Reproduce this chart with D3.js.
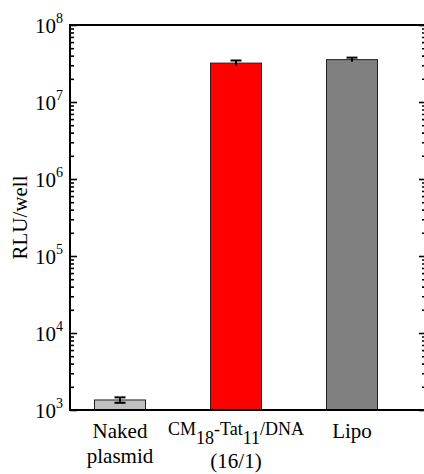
<!DOCTYPE html>
<html>
<head>
<meta charset="utf-8">
<script src="https://cdn.jsdelivr.net/npm/d3@7"></script>
<style>
  body { margin: 0; background: #fff; }
</style>
</head>
<body>
<svg id="chart" width="424" height="474"></svg>
<script>
/* data */
var categories = ["Naked plasmid", "CM18-Tat11/DNA (16/1)", "Lipo"];
var values = [1350, 3.2e7, 3.55e7];
var errors = [110, 2.6e6, 2.2e6];
var barColors = ["#c0c0c0", "#ff0000", "#808080"];
var decades = [3, 4, 5, 6, 7, 8];

var FONT = "Liberation Serif";
var width = 424, height = 474;
var margin = { top: 25, bottom: 64, left: 70, right: -1 };
var innerW = width - margin.left - margin.right,
    innerH = height - margin.top - margin.bottom;

var svg = d3.select("#chart");
var g = svg.append("g")
    .attr("transform", "translate(" + margin.left + "," + margin.top + ")");

var yScale = d3.scaleLog().domain([1e3, 1e8]).range([innerH, 0]);
var xScale = d3.scalePoint().domain(categories).range([50, 282]);
var barW = 51;

// minor ticks 2..9 in each decade
var minor = [];
decades.slice(0, -1).forEach(function(e) {
  for (var k = 2; k <= 9; k++) minor.push(k * Math.pow(10, e));
});

/* bars */
g.selectAll(".bar")
  .data(values)
  .enter().append("rect")
    .attr("class", "bar")
    .attr("x", function(d, i) { return xScale(categories[i]) - barW / 2; })
    .attr("y", function(d) { return yScale(d); })
    .attr("width", barW)
    .attr("height", function(d) { return innerH - yScale(d); })
    .attr("fill", function(d, i) { return barColors[i]; })
    .attr("stroke", "#222")
    .attr("stroke-width", 1);

/* error bars */
var eb = g.selectAll(".err")
  .data(values)
  .enter().append("g").attr("class", "err")
    .attr("stroke", "#000").attr("stroke-width", 2);
eb.append("line")
    .attr("x1", function(d, i) { return xScale(categories[i]); })
    .attr("x2", function(d, i) { return xScale(categories[i]); })
    .attr("y1", function(d, i) { return yScale(d + errors[i]); })
    .attr("y2", function(d, i) { return yScale(d - errors[i]); });
eb.append("line")
    .attr("x1", function(d, i) { return xScale(categories[i]) - 5.5; })
    .attr("x2", function(d, i) { return xScale(categories[i]) + 5.5; })
    .attr("y1", function(d, i) { return yScale(d + errors[i]); })
    .attr("y2", function(d, i) { return yScale(d + errors[i]); });
eb.append("line")
    .attr("x1", function(d, i) { return xScale(categories[i]) - 5.5; })
    .attr("x2", function(d, i) { return xScale(categories[i]) + 5.5; })
    .attr("y1", function(d, i) { return yScale(d - errors[i]); })
    .attr("y2", function(d, i) { return yScale(d - errors[i]); })
    .attr("visibility", function(d, i) { return i === 0 ? "visible" : "hidden"; });

/* axes: ticks point inward on both sides */
var majorVals = decades.map(function(e) { return Math.pow(10, e); });

function styleAxis(sel) {
  sel.select(".domain").remove();
  sel.selectAll("text").remove();
  sel.selectAll("line").attr("stroke", "#000").attr("stroke-width", 1.6);
}

g.append("g")
  .call(d3.axisLeft(yScale).tickValues(majorVals).tickSize(-7))
  .call(styleAxis);
g.append("g")
  .call(d3.axisLeft(yScale).tickValues(minor).tickSize(-4))
  .call(styleAxis);
g.append("g").attr("transform", "translate(" + innerW + ",0)")
  .call(d3.axisRight(yScale).tickValues(majorVals).tickSize(-6))
  .call(styleAxis);
g.append("g").attr("transform", "translate(" + innerW + ",0)")
  .call(d3.axisRight(yScale).tickValues(minor).tickSize(-3))
  .call(styleAxis);

/* frame */
g.append("rect")
  .attr("x", 0).attr("y", 0)
  .attr("width", innerW).attr("height", innerH)
  .attr("fill", "none").attr("stroke", "#000").attr("stroke-width", 2);

/* y tick labels 10^n */
var yl = g.selectAll(".ylab")
  .data(decades)
  .enter().append("text")
    .attr("class", "ylab")
    .attr("font-family", FONT)
    .attr("x", -35)
    .attr("y", function(e) { return yScale(Math.pow(10, e)) + 8; })
    .attr("font-size", 21);
yl.append("tspan").text("10");
yl.append("tspan").attr("dy", -10).attr("font-size", 14)
  .text(function(e) { return e; });

/* y title */
g.append("text")
  .attr("transform", "translate(-43," + innerH / 2 + ") rotate(-90)")
  .attr("text-anchor", "middle")
  .attr("font-family", FONT)
  .attr("font-size", 21)
  .text("RLU/well");

/* x labels */
var xlab = g.append("g").attr("transform", "translate(0," + innerH + ")");
function twoLine(cat, l1, l2) {
  var t = xlab.append("text")
    .attr("x", xScale(cat)).attr("text-anchor", "middle")
    .attr("font-family", FONT)
    .attr("font-size", 21);
  t.append("tspan").attr("x", xScale(cat)).attr("y", 28).text(l1);
  if (l2) t.append("tspan").attr("x", xScale(cat)).attr("y", 53).text(l2);
}
twoLine(categories[0], "Naked", "plasmid");
twoLine(categories[2], "Lipo");

var cm = xlab.append("text")
  .attr("x", xScale(categories[1])).attr("y", 25)
  .attr("text-anchor", "middle")
  .attr("font-family", FONT)
  .attr("font-size", 18);
cm.append("tspan").text("CM");
cm.append("tspan").attr("dy", 9).text("18");
cm.append("tspan").attr("dy", -9).text("-Tat");
cm.append("tspan").attr("dy", 9).text("11");
cm.append("tspan").attr("dy", -9).text("/DNA");
xlab.append("text")
  .attr("x", xScale(categories[1])).attr("y", 58)
  .attr("text-anchor", "middle")
  .attr("font-family", FONT)
  .attr("font-size", 21)
  .text("(16/1)");
</script>
</body>
</html>
